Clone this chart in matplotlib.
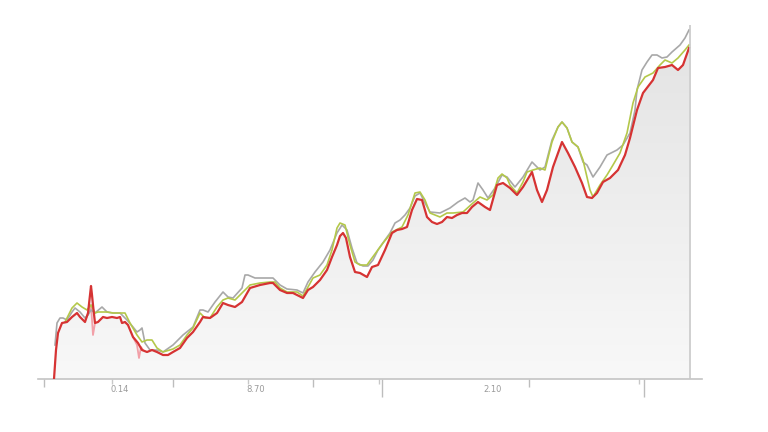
import numpy as np
import matplotlib
matplotlib.use("Agg")
import matplotlib.pyplot as plt
from matplotlib.patches import Polygon
from matplotlib.colors import LinearSegmentedColormap

# ---- data (time index, value) ----
red_x = [54,56,58,62,67,72,77,80,85,88,90,91,92,93,95,98,103,107,112,117,120,122,125,128,133,138,142,147,152,157,
         163,168,173,180,187,193,200,203,210,217,223,228,235,242,250,260,270,273,280,287,293,297,303,308,313,320,327,332,337,340,
         343,346,350,355,360,367,372,378,385,392,397,402,407,412,417,422,427,432,437,442,447,452,457,462,467,472,478,485,490,497,
         503,510,517,523,532,537,542,547,553,562,568,575,582,587,592,597,603,610,618,625,630,637,643,653,658,665,672,678,683,689]
red_y = [0,29,46,56,57,62,66,62,57,66,84,93,84,74,56,57,62,61,62,61,62,56,57,54,42,36,29,27,29,27,
         24,24,27,31,41,47,57,62,61,66,76,74,72,77,91,94,96,96,89,86,86,84,81,89,92,99,109,122,134,143,
         146,141,122,107,106,102,112,114,129,146,149,150,152,169,180,179,162,157,155,157,162,161,164,166,166,172,177,172,169,194,
         196,191,184,192,207,189,177,189,212,237,226,212,196,182,181,186,197,201,209,224,241,269,286,299,311,312,314,309,314,331]

gray_x = [55,57,60,63,67,72,75,80,85,88,91,95,102,107,113,120,127,133,137,140,142,145,150,157,163,173,183,193,200,203,
          208,215,223,228,233,242,245,248,255,263,273,280,287,297,303,308,315,323,330,337,342,347,352,357,363,368,373,378,385,390,
          395,400,405,410,415,420,425,430,440,450,458,465,470,473,478,483,488,495,502,507,515,523,532,537,540,545,552,558,562,567,
          572,578,583,587,593,600,607,617,623,630,635,637,642,647,652,657,662,667,672,680,685,689]
gray_y = [34,56,61,61,59,67,71,67,61,64,69,66,72,67,66,66,59,52,47,49,51,36,29,29,27,34,44,52,69,69,
          67,77,87,82,81,91,104,104,101,101,101,94,90,89,86,97,107,117,129,146,154,149,131,116,113,113,119,129,139,146,
          156,159,164,171,183,186,176,167,166,171,177,181,177,179,196,189,181,191,204,202,192,202,217,212,209,212,239,252,257,251,
          237,232,217,214,202,212,224,229,234,246,269,289,309,317,324,324,321,322,327,334,341,349]

green_x = [65,72,77,82,87,91,95,98,107,113,125,130,137,142,147,152,157,163,173,180,187,193,200,205,210,217,223,228,235,242,
           250,260,270,275,280,287,297,303,308,313,320,327,332,337,340,345,350,355,360,367,372,383,392,402,408,415,420,425,430,440,
           447,453,463,473,480,487,493,498,502,507,510,517,523,527,533,540,545,552,558,562,567,572,578,583,590,593,600,607,613,620,
           627,633,638,645,653,660,665,672,678,685,689]
green_y = [57,71,76,72,69,74,66,67,67,66,66,56,44,37,39,39,31,27,30,34,44,51,66,61,61,72,79,81,79,86,
           94,96,97,97,91,87,87,83,92,101,104,114,129,151,156,154,134,117,114,114,121,136,147,152,164,186,187,179,166,162,
           166,166,167,176,182,179,184,201,205,201,194,186,197,207,209,211,209,237,252,257,251,237,232,219,189,182,194,204,214,226,
           246,276,292,302,306,314,319,316,321,329,334]

pink_x = [86,89,91,93,95,np.nan,133,137,139,141,143]
pink_y = [61,67,74,44,56,np.nan,42,34,21,32,29]

tick_major = [44,173,313,382,529,644]
tick_major_len = [6,6,6,13,6,13]
tick_minor = [112,248,379,639]
tick_labels = ["0.14", "8.70", "2.10"]
tick_label_x = [120,256,493]

# ---- figure ----
W, H = 768, 432
fig = plt.figure(figsize=(W/100, H/100), dpi=100)
fig.patch.set_facecolor("white")
ax = fig.add_axes([38/W, (H-379)/H, (702-38)/W, (379-25)/H])
ax.set_xlim(38, 702)
ax.set_ylim(0, 354)
ax.set_facecolor("none")

# gradient fill under red
grad = np.linspace(1, 0, 256).reshape(-1, 1)
cmap = LinearSegmentedColormap.from_list("g", ["#f8f8f8", "#e3e3e3"])
im = ax.imshow(grad, cmap=cmap, aspect="auto", extent=[38, 702, 0, 354], origin="upper",
               vmin=0, vmax=1, zorder=1)
verts = [(red_x[0], 0)] + list(zip(red_x, red_y)) + [(red_x[-1], 0)]
poly = Polygon(verts, closed=True, facecolor="none", edgecolor="none")
ax.add_patch(poly)
im.set_clip_path(poly)

ax.plot(pink_x, pink_y, color="#f2a0a8", lw=1.3, zorder=2)
ax.plot(gray_x, gray_y, color="#a8a8a8", lw=1.2, zorder=3, solid_joinstyle="round")
ax.plot(green_x, green_y, color="#b4c84a", lw=1.2, zorder=4, solid_joinstyle="round")
ax.plot(red_x, red_y, color="#d63333", lw=1.6, zorder=5, solid_joinstyle="round")

ax.axvline(690, ymin=0, ymax=1, color="#c8c8c8", lw=1.2, zorder=6)

for s in ["top", "right", "left"]:
    ax.spines[s].set_visible(False)
ax.spines["bottom"].set_color("#c4c4c4")
ax.spines["bottom"].set_linewidth(1.2)
ax.set_yticks([])

ax.set_xticks(tick_major)
ax.set_xticks(tick_minor, minor=True)
ax.set_xticklabels([])
ax.tick_params(axis="x", which="major", direction="out", color="#bdbdbd", width=1.0, length=6)
ax.tick_params(axis="x", which="minor", direction="out", color="#c8c8c8", width=1.0, length=3.5)
for t, L in zip(ax.xaxis.get_major_ticks(), tick_major_len):
    t.tick1line.set_markersize(L)

for xl, s in zip(tick_label_x, tick_labels):
    ax.text(xl, -10, s, ha="center", va="center", fontsize=6, color="#9a9a9a", clip_on=False)

fig.savefig("out.png", dpi=100, facecolor="white")
